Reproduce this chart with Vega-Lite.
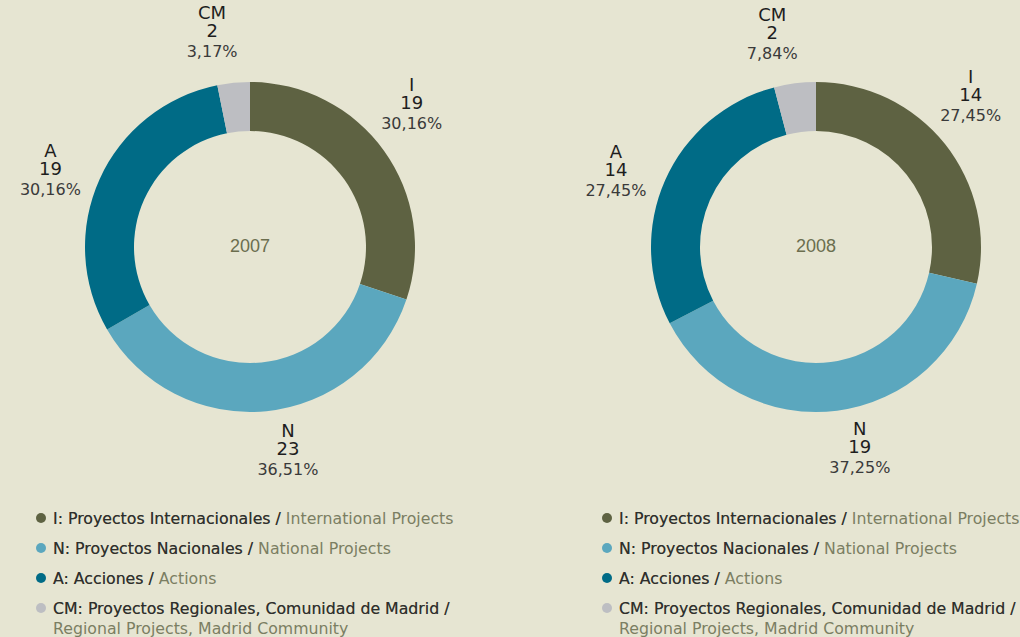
{
  "$schema": "https://vega.github.io/schema/vega-lite/v6.json",
  "background": "#e6e5d2",
  "padding": {"left": 19, "top": 0, "right": 0, "bottom": 0},
  "autosize": {"type": "pad"},
  "bounds": "flush",
  "columns": 2,
  "spacing": {"row": 9, "column": 148},
  "config": {"view": {"stroke": null}},
  "datasets": {
    "d2007": [
      {"code": "I", "value": 19, "pct": "30,16%", "ord": 1},
      {"code": "N", "value": 23, "pct": "36,51%", "ord": 2},
      {"code": "A", "value": 19, "pct": "30,16%", "ord": 3},
      {"code": "CM", "value": 2, "pct": "3,17%", "ord": 4}
    ],
    "d2008": [
      {"code": "I", "value": 14, "pct": "27,45%", "ord": 1},
      {"code": "N", "value": 19, "pct": "37,25%", "ord": 2},
      {"code": "A", "value": 14, "pct": "27,45%", "ord": 3},
      {"code": "CM", "value": 2, "pct": "7,84%", "ord": 4}
    ],
    "legend": [
      {"code": "I", "es": "I: Proyectos Internacionales /", "full": "I: Proyectos Internacionales / International Projects"},
      {"code": "N", "es": "N: Proyectos Nacionales /", "full": "N: Proyectos Nacionales / National Projects"},
      {"code": "A", "es": "A: Acciones /", "full": "A: Acciones / Actions"},
      {"code": "CM", "es": "CM: Proyectos Regionales, Comunidad de Madrid /", "full": "CM: Proyectos Regionales, Comunidad de Madrid /\nRegional Projects, Madrid Community"}
    ]
  },
  "concat": [
    {
      "width": 418,
      "height": 494,
      "data": {"name": "d2007"},
      "encoding": {
        "theta": {"field": "value", "type": "quantitative", "stack": true},
        "order": {"field": "ord", "type": "quantitative"}
      },
      "layer": [
        {
          "mark": {"type": "arc", "innerRadius": 116, "outerRadius": 165},
          "encoding": {
            "color": {"field": "code", "type": "nominal", "legend": null,
              "scale": {"domain": ["I", "N", "A", "CM"], "range": ["#5e6242", "#5ba7be", "#006b86", "#bdbec2"]}}
          }
        },
        {
          "mark": {"type": "text", "radius": 212, "thetaOffset": -0.08, "dy": -24, "fontSize": 18, "font": "DejaVu Sans", "color": "#1e1e1e", "baseline": "middle"},
          "encoding": {"text": {"field": "code"}}
        },
        {
          "mark": {"type": "text", "radius": 212, "thetaOffset": -0.08, "dy": -6, "fontSize": 18, "font": "DejaVu Sans", "color": "#1e1e1e", "baseline": "middle"},
          "encoding": {"text": {"field": "value"}}
        },
        {
          "mark": {"type": "text", "radius": 212, "thetaOffset": -0.08, "dy": 14, "fontSize": 16, "font": "DejaVu Sans", "color": "#3a3a3a", "baseline": "middle"},
          "encoding": {"text": {"field": "pct"}}
        },
        {
          "data": {"values": [{"year": "2007"}]},
          "mark": {"type": "text", "fontSize": 18, "font": "Liberation Sans", "color": "#6b6e4e", "baseline": "middle"},
          "encoding": {"text": {"field": "year"}, "theta": null, "order": null}
        }
      ]
    },
    {
      "width": 418,
      "height": 494,
      "data": {"name": "d2008"},
      "encoding": {
        "theta": {"field": "value", "type": "quantitative", "stack": true},
        "order": {"field": "ord", "type": "quantitative"}
      },
      "layer": [
        {
          "mark": {"type": "arc", "innerRadius": 116, "outerRadius": 165},
          "encoding": {
            "color": {"field": "code", "type": "nominal", "legend": null,
              "scale": {"domain": ["I", "N", "A", "CM"], "range": ["#5e6242", "#5ba7be", "#006b86", "#bdbec2"]}}
          }
        },
        {
          "mark": {"type": "text", "radius": 212, "thetaOffset": -0.08, "dy": -24, "fontSize": 18, "font": "DejaVu Sans", "color": "#1e1e1e", "baseline": "middle"},
          "encoding": {"text": {"field": "code"}}
        },
        {
          "mark": {"type": "text", "radius": 212, "thetaOffset": -0.08, "dy": -6, "fontSize": 18, "font": "DejaVu Sans", "color": "#1e1e1e", "baseline": "middle"},
          "encoding": {"text": {"field": "value"}}
        },
        {
          "mark": {"type": "text", "radius": 212, "thetaOffset": -0.08, "dy": 14, "fontSize": 16, "font": "DejaVu Sans", "color": "#3a3a3a", "baseline": "middle"},
          "encoding": {"text": {"field": "pct"}}
        },
        {
          "data": {"values": [{"year": "2008"}]},
          "mark": {"type": "text", "fontSize": 18, "font": "Liberation Sans", "color": "#6b6e4e", "baseline": "middle"},
          "encoding": {"text": {"field": "year"}, "theta": null, "order": null}
        }
      ]
    },
    {
      "width": 10,
      "height": 120,
      "data": {"name": "legend"},
      "encoding": {
        "y": {"field": "code", "type": "nominal", "axis": null,
          "scale": {"type": "point", "padding": 0.5, "domain": ["I", "N", "A", "CM"]}},
        "x": {"datum": 0, "type": "quantitative", "axis": null, "scale": {"domain": [0, 1]}}
      },
      "layer": [
        {
          "mark": {"type": "point", "filled": true, "size": 100, "opacity": 1},
          "encoding": {
            "color": {"field": "code", "type": "nominal", "legend": null,
              "scale": {"domain": ["I", "N", "A", "CM"], "range": ["#5e6242", "#5ba7be", "#006b86", "#bdbec2"]}}
          }
        },
        {
          "mark": {"type": "text", "align": "left", "baseline": "alphabetic", "dx": 12, "dy": 6, "fontSize": 15.75, "font": "DejaVu Sans", "color": "#7b7e62", "lineBreak": "\n", "lineHeight": 20},
          "encoding": {"text": {"field": "full"}}
        },
        {
          "mark": {"type": "text", "align": "left", "baseline": "alphabetic", "dx": 12, "dy": 6, "fontSize": 15.75, "font": "DejaVu Sans", "color": "#2e2e2e"},
          "encoding": {"text": {"field": "es"}}
        }
      ]
    },
    {
      "width": 10,
      "height": 120,
      "data": {"name": "legend"},
      "encoding": {
        "y": {"field": "code", "type": "nominal", "axis": null,
          "scale": {"type": "point", "padding": 0.5, "domain": ["I", "N", "A", "CM"]}},
        "x": {"datum": 0, "type": "quantitative", "axis": null, "scale": {"domain": [0, 1]}}
      },
      "layer": [
        {
          "mark": {"type": "point", "filled": true, "size": 100, "opacity": 1},
          "encoding": {
            "color": {"field": "code", "type": "nominal", "legend": null,
              "scale": {"domain": ["I", "N", "A", "CM"], "range": ["#5e6242", "#5ba7be", "#006b86", "#bdbec2"]}}
          }
        },
        {
          "mark": {"type": "text", "align": "left", "baseline": "alphabetic", "dx": 12, "dy": 6, "fontSize": 15.75, "font": "DejaVu Sans", "color": "#7b7e62", "lineBreak": "\n", "lineHeight": 20},
          "encoding": {"text": {"field": "full"}}
        },
        {
          "mark": {"type": "text", "align": "left", "baseline": "alphabetic", "dx": 12, "dy": 6, "fontSize": 15.75, "font": "DejaVu Sans", "color": "#2e2e2e"},
          "encoding": {"text": {"field": "es"}}
        }
      ]
    }
  ]
}
